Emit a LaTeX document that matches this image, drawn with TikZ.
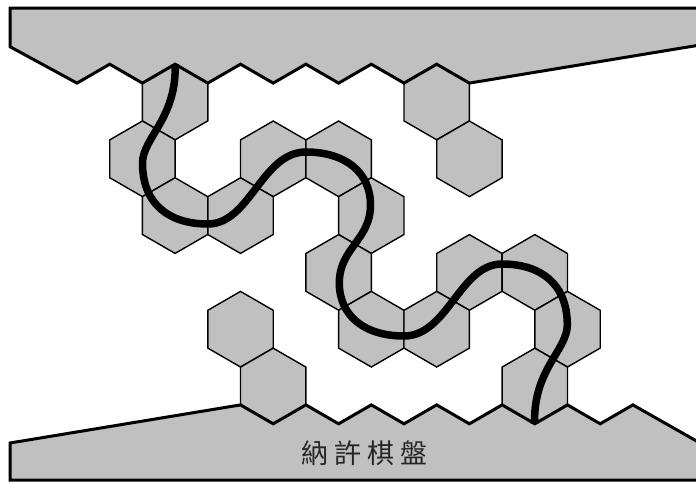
\documentclass[tikz,border=0pt]{standalone}
\usepackage{fontspec}
\newfontfamily\cjkfont{Noto Sans CJK TC}
\definecolor{boardgray}{RGB}{192,192,192}
\begin{document}
\begin{tikzpicture}[x=1pt,y=-1pt,
  hexcell/.style={fill=boardgray,draw=black,line width=1.4pt,line join=miter},
  edgeshape/.style={fill=boardgray,draw=black,line width=3pt,line join=miter},
  route/.style={draw=black,line width=7.5pt},
  boardlabel/.style={font=\cjkfont\fontsize{27}{27}\selectfont,text=black!85,inner sep=0pt}]
\useasboundingbox (0,0) rectangle (696,482);
\clip (0,0) rectangle (696,482);
% hexagonal cells
\foreach \r/\c in {0/3,0/11,1/2,1/6,1/8,1/12,2/3,2/5,2/9,3/8,3/12,3/14,4/5,4/9,4/11,4/15,5/6,5/14}{
  \pgfmathsetmacro\hx{77+32.7*\c}
  \pgfmathsetmacro\hy{102+56.8*\r}
  \draw[hexcell] (\hx,\hy-37.8) -- (\hx+32.7,\hy-18.9) -- (\hx+32.7,\hy+18.9)
    -- (\hx,\hy+37.8) -- (\hx-32.7,\hy+18.9) -- (\hx-32.7,\hy-18.9) -- cycle;
}
% top edge region
\draw[edgeshape] (10,8) -- (700,8) -- (700,45) -- (469.4,83.1) -- (436.7,64.2)
  -- (404,83.1) -- (371.3,64.2) -- (338.6,83.1) -- (305.9,64.2) -- (273.2,83.1)
  -- (240.5,64.2) -- (207.8,83.1) -- (175.1,64.2) -- (142.4,83.1) -- (109.7,64.2)
  -- (77,83.1) -- (10,46.7) -- cycle;
% bottom edge region
\draw[edgeshape] (10,480) -- (10,443) -- (240.5,404.9) -- (273.2,423.8) -- (305.9,404.9)
  -- (338.6,423.8) -- (371.3,404.9) -- (404,423.8) -- (436.7,404.9) -- (469.4,423.8)
  -- (502.1,404.9) -- (534.8,423.8) -- (567.5,404.9) -- (600.2,423.8) -- (632.9,404.9)
  -- (700,443) -- (700,480) -- cycle;
% winning route
\coordinate (pA) at (175.1,64.2);
\coordinate (pF) at (534.7,423.8);
\draw[route] (pA) .. controls (177,118) and (142.5,138) .. (142.5,163)
  .. controls (142.5,205) and (170,224) .. (207.8,224)
  .. controls (250,224) and (262,152) .. (305.9,152)
  .. controls (345,152) and (370.5,172) .. (370.5,205)
  .. controls (370.5,240) and (339.3,248) .. (339.3,283)
  .. controls (339.3,316) and (364.8,336) .. (403.9,336)
  .. controls (447.8,336) and (459.8,264) .. (502,264)
  .. controls (539.8,264) and (567.3,283) .. (567.3,325)
  .. controls (567.3,350) and (532.8,370) .. (pF);
% label
\node[boardlabel] (lbl) at (364.5,453) {納\hspace{6pt}許\hspace{6pt}棋\hspace{6pt}盤};
\end{tikzpicture}
\end{document}
